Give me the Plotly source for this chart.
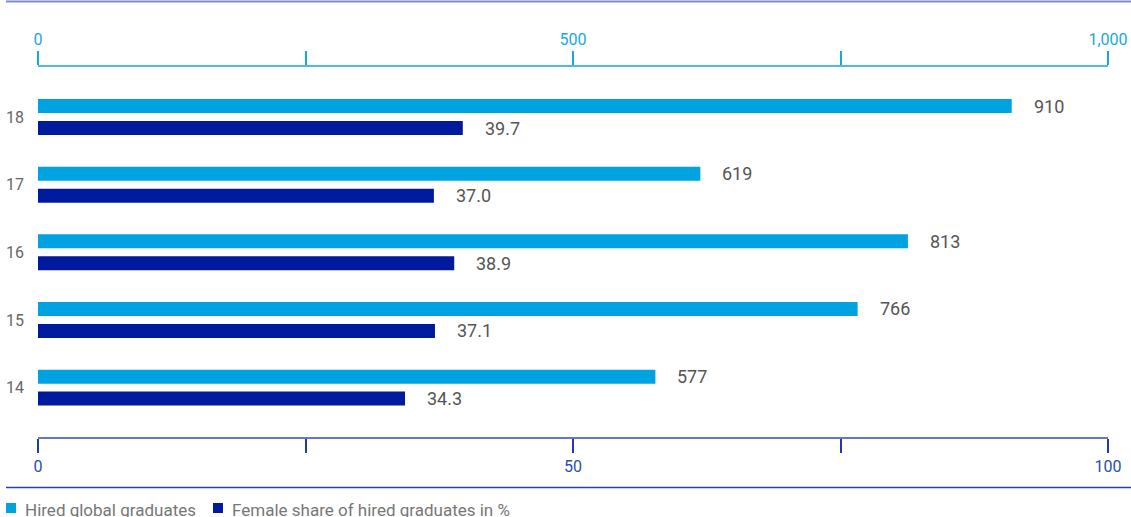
import plotly.graph_objects as go

# Data
years = ["14", "15", "16", "17", "18"]
hired_graduates = [577, 766, 813, 619, 910]
female_share = [34.3, 37.1, 38.9, 37.0, 39.7]

hired_ticks = [0, 250, 500, 750, 1000]
hired_ticktext = ["0", "", "500", "", "1,000"]
share_ticks = [0, 25, 50, 75, 100]
share_ticktext = ["0", "", "50", "", "100"]

series_names = ["Hired global graduates", "Female share of hired graduates in %"]

LIGHT = "#00a3e0"
DARK = "#001a9e"
FONT = "Roboto, Arial, sans-serif"

fig = go.Figure()

fig.add_trace(go.Bar(
    y=years, x=hired_graduates, orientation="h", xaxis="x2", yaxis="y",
    name=series_names[0], marker=dict(color=LIGHT, line=dict(width=0)),
    width=0.207, offset=0.059, showlegend=False, hoverinfo="skip",
))
fig.add_trace(go.Bar(
    y=years, x=female_share, orientation="h", xaxis="x", yaxis="y",
    name=series_names[1], marker=dict(color=DARK, line=dict(width=0)),
    width=0.207, offset=-0.266, showlegend=False, hoverinfo="skip",
))

# Value labels; category positions are given by index on the category axis
annotations = []
for i, v in enumerate(hired_graduates):
    annotations.append(dict(
        x=v, y=i, xref="x2", yref="y", text=f"{v:,}", showarrow=False,
        xanchor="left", yanchor="middle", xshift=20, yshift=11,
        font=dict(family=FONT, size=18, color="#555555"),
    ))
for i, v in enumerate(female_share):
    annotations.append(dict(
        x=v, y=i, xref="x", yref="y", text=f"{v:.1f}", showarrow=False,
        xanchor="left", yanchor="middle", xshift=20, yshift=-11,
        font=dict(family=FONT, size=18, color="#555555"),
    ))

# Legend drawn as squares and text under the bottom rule
legend_items = [(series_names[0], LIGHT, 6), (series_names[1], DARK, 213)]
W, H = 1131, 517
L, R, T, B = 38, 23, 67, 80
plot_w = W - L - R
plot_h = H - T - B


def px_x(p):
    return (p - L) / plot_w


def px_y(p):
    return (H - B - p) / plot_h


shapes = []
for name, color, x0 in legend_items:
    shapes.append(dict(
        type="rect", xref="paper", yref="paper",
        x0=px_x(x0), x1=px_x(x0 + 10), y0=px_y(513), y1=px_y(503),
        fillcolor=color, line=dict(width=0),
    ))
    annotations.append(dict(
        x=px_x(x0 + 17), y=px_y(510), xref="paper", yref="paper",
        text=name, showarrow=False, xanchor="left", yanchor="middle",
        font=dict(family=FONT, size=17, color="#777777"),
    ))

# Horizontal rules at top and above the legend
shapes.append(dict(type="line", xref="paper", yref="paper",
                   x0=px_x(6), x1=px_x(W), y0=px_y(1.5), y1=px_y(1.5),
                   line=dict(color="#7f8ad0", width=2)))
shapes.append(dict(type="line", xref="paper", yref="paper",
                   x0=px_x(6), x1=px_x(W), y0=px_y(487.5), y1=px_y(487.5),
                   line=dict(color="#2b3fa8", width=1.5)))

fig.update_layout(
    width=W, height=H,
    margin=dict(l=L, r=R, t=T, b=B, pad=0, autoexpand=False),
    paper_bgcolor="white", plot_bgcolor="white",
    barmode="overlay",
    font=dict(family=FONT),
    showlegend=False,
    xaxis=dict(
        range=[0, 100], side="bottom", anchor="y", automargin=False,
        tickmode="array", tickvals=share_ticks, ticktext=share_ticktext,
        ticks="outside", ticklen=14, tickwidth=1.5, tickcolor="#1f3aa8",
        showline=True, linecolor="#6676c2", linewidth=1.5,
        showgrid=False, zeroline=False,
        tickfont=dict(family=FONT, size=16, color="#2a4db5"),
    ),
    xaxis2=dict(
        range=[0, 1000], side="top", overlaying="x", anchor="y", automargin=False,
        tickmode="array", tickvals=hired_ticks, ticktext=hired_ticktext,
        ticks="outside", ticklen=14, tickwidth=1.5, tickcolor="#1aa6df",
        showline=True, linecolor="#4dbbe8", linewidth=1.5,
        showgrid=False, zeroline=False,
        tickfont=dict(family=FONT, size=16, color="#1aa7e1"),
    ),
    yaxis=dict(
        type="category", categoryorder="array", categoryarray=years,
        range=[-0.73, 4.74], showline=False, showgrid=False, zeroline=False,
        automargin=False, ticks="", ticklabelstandoff=13,
        tickfont=dict(family=FONT, size=16, color="#666666"),
    ),
    shapes=shapes,
    annotations=annotations,
)

fig.write_html("out.html")
